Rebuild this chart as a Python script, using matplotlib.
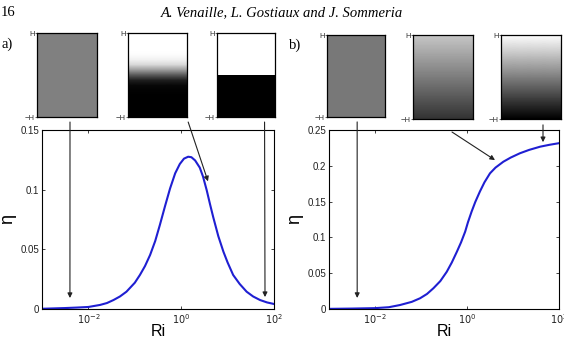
import numpy as np
import matplotlib.pyplot as plt

plt.rcParams["font.family"] = ["Liberation Sans", "DejaVu Sans"]

# efficiency curves: log10(Ri), eta
logri_a = [-3.0, -2.5, -2.25, -2.0, -1.75, -1.6, -1.46, -1.32, -1.18, -1.0,
           -0.89, -0.78, -0.67, -0.56, -0.46, -0.35, -0.24, -0.13, -0.03, 0.06,
           0.15, 0.22, 0.30, 0.40, 0.47, 0.55, 0.62, 0.69, 0.80, 0.91,
           1.0, 1.12, 1.26, 1.41, 1.55, 1.70, 1.85, 2.0]
eta_a = [0.0002, 0.0008, 0.0012, 0.0017, 0.0034, 0.005, 0.0075, 0.0105, 0.0145, 0.022,
         0.0285, 0.036, 0.0453, 0.057, 0.0704, 0.086, 0.101, 0.1137, 0.1215, 0.126,
         0.1276, 0.1272, 0.1245, 0.1185, 0.111, 0.0995, 0.088, 0.077, 0.061, 0.048,
         0.039, 0.0285, 0.021, 0.0145, 0.0105, 0.0075, 0.0055, 0.0042]

logri_b = [-3.0, -2.5, -2.0, -1.7, -1.46, -1.2, -1.02, -0.87, -0.73, -0.58,
           -0.44, -0.33, -0.22, -0.13, -0.04, 0.02, 0.10, 0.18, 0.28, 0.38,
           0.50, 0.62, 0.79, 0.95, 1.15, 1.35, 1.59, 1.79, 2.0]
eta_b = [0.0002, 0.0006, 0.0012, 0.0025, 0.0055, 0.010, 0.015, 0.021, 0.029, 0.039,
         0.052, 0.065, 0.080, 0.093, 0.108, 0.121, 0.136, 0.1495, 0.164, 0.177,
         0.1895, 0.1975, 0.2057, 0.2115, 0.2175, 0.2222, 0.2267, 0.2293, 0.2316]

# density profiles of the sketches (gray level, top to bottom)
prof_a = [[0.5, 0.5],
          [1, 1, 1, 1, 0.99, 0.95, 0.85, 0.62, 0.35, 0.12, 0.03, 0.01, 0, 0, 0, 0, 0],
          [1, 0]]
smooth_a = [False, True, False]
prof_b = [[0.47, 0.47],
          [0.78, 0.2],
          [1.0, 0.0]]
smooth_b = [False, True, True]

# arrows: start (x fraction, y fraction of sketch), end (Ri, eta)
arr_a = [((0.55, -0.06), (0.004, 0.0092)),
         ((1.02, -0.06), (3.78, 0.107)),
         ((0.82, -0.06), (64.0, 0.010))]
arr_b = [((0.52, -0.06), (0.0041, 0.0154)),
         ((0.65, -0.155), (4.06, 0.208)),
         ((0.70, -0.07), (44.9, 0.233))]

W, H = 564, 338


def fig_rect(x0, y0, x1, y1):
    # pixel box (top-left origin) -> figure fraction rect
    return [x0 / W, 1 - y1 / H, (x1 - x0) / W, (y1 - y0) / H]


fig = plt.figure(figsize=(5.64, 3.38), dpi=100)

fig.text(1 / W, 1 - 13 / H, "16", family="Liberation Serif", fontsize=10.5,
         va="center", ha="left")
fig.text(282 / W, 1 - 13 / H, "A. Venaille, L. Gostiaux and J. Sommeria",
         family="Liberation Serif", style="italic", fontsize=10.5,
         va="center", ha="center")
fig.text(1 / W, 1 - 44 / H, "a)", family="Liberation Serif", fontsize=10.5,
         va="center", ha="left")
fig.text(289 / W, 1 - 45 / H, "b)", family="Liberation Serif", fontsize=10.5,
         va="center", ha="left")


def main_axes(rect, x, y, ymax, yticks, ylabels):
    ax = fig.add_axes(rect)
    ax.plot(10 ** np.array(x), y, color="#1f1fd2", lw=1.5)
    ax.set_xscale("log")
    ax.set_xlim(1e-3, 1e2)
    ax.set_ylim(0, ymax)
    ax.set_xticks([1e-2, 1, 1e2])
    ax.set_xticklabels([r"$10^{-2}$", r"$10^{0}$", r"$10^{2}$"])
    ax.xaxis.set_minor_locator(plt.NullLocator())
    ax.set_yticks(yticks)
    ax.set_yticklabels(ylabels)
    ax.tick_params(direction="in", length=2.5, width=0.6, labelsize=7,
                   top=True, right=True, pad=2, colors="#222222")
    ax.set_xlabel("Ri", fontsize=11.5, labelpad=-1)
    ax.set_ylabel("\u03b7", fontsize=13, labelpad=3)
    for s in ax.spines.values():
        s.set_linewidth(0.8)
    return ax


def sketch(rect, prof, smooth):
    ax = fig.add_axes(rect)
    img = np.array(prof, dtype=float)[:, None]
    if smooth:
        # put first and last pixel centres on the edges -> gradient spans full height
        half = 1.0 / (len(prof) - 1)
        ext = [0, 1, -1 - half, 1 + half]
        interp = "bilinear"
    else:
        ext = [0, 1, -1, 1]
        interp = "nearest"
    ax.imshow(img, cmap="gray", vmin=0, vmax=1, aspect="auto",
              extent=ext, interpolation=interp)
    ax.set_xlim(0, 1)
    ax.set_ylim(-1, 1)
    ax.set_xticks([])
    ax.set_yticks([-1, 1])
    ax.set_yticklabels(["\u2212H", "H"])
    ax.tick_params(length=1.5, width=0.5, labelsize=5.5, pad=0, colors="#333333")
    for s in ax.spines.values():
        s.set_linewidth(0.9)
    return ax


ax_a = main_axes(fig_rect(42, 130, 274, 309), logri_a, eta_a, 0.15,
                 [0, 0.05, 0.1, 0.15], ["0", "0.05", "0.1", "0.15"])
ax_b = main_axes(fig_rect(329, 130, 559, 309), logri_b, eta_b, 0.25,
                 [0, 0.05, 0.1, 0.15, 0.2, 0.25],
                 ["0", "0.05", "0.1", "0.15", "0.2", "0.25"])

boxes_a = [(37, 33, 97, 117), (128, 33, 187, 117), (217, 33, 275, 117)]
boxes_b = [(327, 35, 385, 117), (413, 35, 473, 119), (501, 35, 561, 119)]

sk_a = [sketch(fig_rect(*b), p, s) for b, p, s in zip(boxes_a, prof_a, smooth_a)]
sk_b = [sketch(fig_rect(*b), p, s) for b, p, s in zip(boxes_b, prof_b, smooth_b)]

for ax_main, sks, arrows in [(ax_a, sk_a, arr_a), (ax_b, sk_b, arr_b)]:
    for sk, (start, end) in zip(sks, arrows):
        ax_main.annotate("", xy=end, xycoords="data",
                         xytext=start, textcoords=sk.transAxes,
                         arrowprops=dict(arrowstyle="-|>", color="#222222",
                                         lw=0.8, mutation_scale=7,
                                         shrinkA=0, shrinkB=0),
                         annotation_clip=False)

fig.savefig("out.png", dpi=100)
